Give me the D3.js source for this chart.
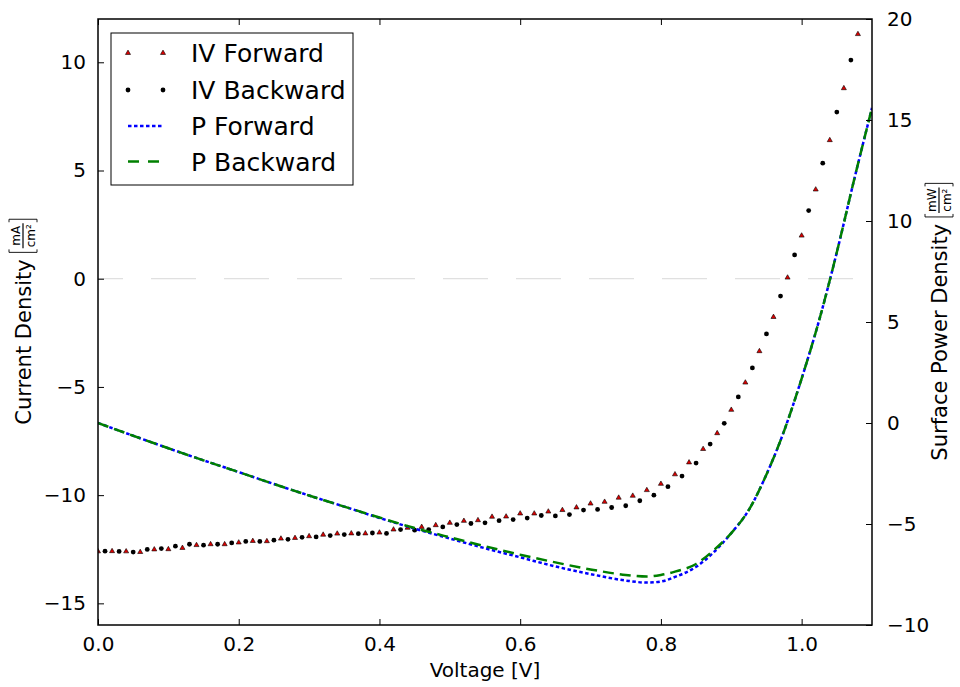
<!doctype html>
<html>
<head>
<meta charset="UTF-8">
<title>IV curve</title>
<script src="https://d3js.org/d3.v7.min.js"></script>
<style>
  body { margin: 0; background: #fff; }
  text { font-family: "DejaVu Sans", sans-serif; }
</style>
</head>
<body>
<svg width="960" height="687"></svg>
<script>
// forward sweep (triangles), 0.00 .. 1.08 V step 0.02
var fwdVolt = d3.range(0, 55).map(function (i) { return +(i * 0.02).toFixed(2); });
var fwdJ = [-12.60, -12.59, -12.60, -12.63, -12.51, -12.50, -12.44, -12.31, -12.27, -12.27,
            -12.19, -12.12, -12.13, -12.01, -11.98, -11.90, -11.83, -11.78, -11.77, -11.77,
            -11.73, -11.59, -11.51, -11.47, -11.39, -11.28, -11.19, -11.16, -11.00, -10.99,
            -10.85, -10.85, -10.76, -10.69, -10.57, -10.39, -10.31, -10.12, -10.03, -9.77,
            -9.48, -9.04, -8.49, -7.87, -7.14, -6.06, -4.80, -3.35, -1.77, 0.05,
            1.99, 4.12, 6.40, 8.80, 11.30];
// backward sweep (circles), 0.01 .. 1.07 V step 0.02
var bwdVolt = d3.range(0, 54).map(function (i) { return +(0.01 + i * 0.02).toFixed(2); });
var bwdJ = [-12.59, -12.60, -12.63, -12.51, -12.47, -12.36, -12.27, -12.31, -12.27, -12.21,
            -12.14, -12.14, -12.08, -12.04, -11.95, -11.93, -11.87, -11.82, -11.78, -11.75,
            -11.77, -11.59, -11.62, -11.59, -11.47, -11.36, -11.31, -11.28, -11.18, -11.13,
            -11.06, -10.94, -10.96, -10.90, -10.69, -10.66, -10.57, -10.49, -10.26, -10.00,
            -9.61, -9.12, -8.52, -7.64, -6.68, -5.46, -4.12, -2.55, -0.80, 1.10,
            3.15, 5.34, 7.70, 10.10];
// power density curves
var pVolt = [0, 0.05, 0.1, 0.15, 0.2, 0.25, 0.3, 0.35, 0.4, 0.45, 0.5, 0.55, 0.6, 0.65, 0.7, 0.75,
             0.78, 0.8, 0.82, 0.85, 0.875, 0.9, 0.925, 0.95, 0.975, 1.0, 1.025, 1.05, 1.075, 1.1];
var pFwd = [0, -0.63, -1.25, -1.85, -2.43, -3.02, -3.59, -4.14, -4.70, -5.23, -5.72, -6.20, -6.65, -7.10, -7.48, -7.80,
            -7.90, -7.85, -7.62, -7.12, -6.40, -5.45, -4.30, -2.55, -0.40, 2.20, 5.10, 8.45, 12.10, 15.60];
var pBwd = [0, -0.63, -1.25, -1.85, -2.43, -3.02, -3.59, -4.14, -4.68, -5.20, -5.66, -6.10, -6.52, -6.90, -7.25, -7.52,
            -7.60, -7.52, -7.36, -6.98, -6.30, -5.45, -4.30, -2.55, -0.40, 2.20, 5.10, 8.45, 12.10, 15.60];

var xTicks = [0, 0.2, 0.4, 0.6, 0.8, 1.0];
var leftTicks = [-15, -10, -5, 0, 5, 10];
var rightTicks = [-10, -5, 0, 5, 10, 15, 20];
var legendNames = ["IV Forward", "IV Backward", "P Forward", "P Backward"];

var L = 98, R = 872, T = 19, B = 625;
var svg = d3.select("svg");
var x = d3.scaleLinear().domain([0, 1.1]).range([L, R]);
var yL = d3.scaleLinear().domain([-16, 12]).range([B, T]);
var yR = d3.scaleLinear().domain([-10, 20]).range([B, T]);

svg.append("defs").append("clipPath").attr("id", "clip")
    .append("rect").attr("x", L).attr("y", T).attr("width", R - L).attr("height", B - T);

// zero line
svg.append("line")
    .attr("x1", L).attr("x2", R).attr("y1", yL(0)).attr("y2", yL(0))
    .attr("stroke", "#d8d8d8").attr("stroke-width", 1).attr("stroke-dasharray", "45,28")
    .attr("stroke-dashoffset", 20);

var plot = svg.append("g").attr("clip-path", "url(#clip)");

var tri = d3.symbol().type(d3.symbolTriangle).size(11);

plot.selectAll(".fwd").data(fwdVolt).enter().append("path")
    .attr("class", "fwd")
    .attr("d", tri)
    .attr("transform", function (d, i) { return "translate(" + x(d) + "," + yL(fwdJ[i]) + ")"; })
    .attr("fill", "#dd0000").attr("stroke", "black").attr("stroke-width", 0.6);

plot.selectAll(".bwd").data(bwdVolt).enter().append("circle")
    .attr("class", "bwd")
    .attr("cx", function (d) { return x(d); })
    .attr("cy", function (d, i) { return yL(bwdJ[i]); })
    .attr("r", 2.4).attr("fill", "black");

var line = function (vals) {
    return d3.line()
        .x(function (d) { return x(d); })
        .y(function (d, i) { return yR(vals[i]); })
        .curve(d3.curveMonotoneX)(pVolt);
};

plot.append("path").attr("d", line(pFwd))
    .attr("fill", "none").attr("stroke", "#0000ff").attr("stroke-width", 2.5)
    .attr("stroke-dasharray", "3.5,2.5");
plot.append("path").attr("d", line(pBwd))
    .attr("fill", "none").attr("stroke", "#008000").attr("stroke-width", 2.5)
    .attr("stroke-dasharray", "11,6");

// axes with inward ticks
var tl = 6;
svg.append("g").attr("transform", "translate(0," + B + ")")
    .call(d3.axisBottom(x).tickValues(xTicks).tickFormat(d3.format(".1f")).tickSizeInner(-tl).tickSizeOuter(0).tickPadding(12))
    .call(function (g) { g.select(".domain").remove(); });
svg.append("g").attr("transform", "translate(0," + T + ")")
    .call(d3.axisTop(x).tickValues(xTicks).tickFormat("").tickSizeInner(-tl).tickSizeOuter(0))
    .call(function (g) { g.select(".domain").remove(); });
svg.append("g").attr("transform", "translate(" + L + ",0)")
    .call(d3.axisLeft(yL).tickValues(leftTicks).tickSizeInner(-tl).tickSizeOuter(0).tickPadding(12))
    .call(function (g) { g.select(".domain").remove(); });
svg.append("g").attr("transform", "translate(" + R + ",0)")
    .call(d3.axisRight(yR).tickValues(rightTicks).tickSizeInner(-tl).tickSizeOuter(0).tickPadding(15))
    .call(function (g) { g.select(".domain").remove(); });

svg.selectAll(".tick text").attr("font-size", 20).attr("font-family", "DejaVu Sans").attr("fill", "black");
svg.selectAll(".tick line").attr("stroke", "black").attr("stroke-width", 1);

svg.append("rect").attr("x", L).attr("y", T).attr("width", R - L).attr("height", B - T)
    .attr("fill", "none").attr("stroke", "black").attr("stroke-width", 1.5);

// axis labels
svg.append("text").attr("x", (L + R) / 2).attr("y", 677).attr("text-anchor", "middle")
    .attr("font-size", 20).text("Voltage [V]");

function yLabel(cx, txt, num, den) {
    var g = svg.append("g").attr("transform", "translate(" + cx + "," + ((T + B) / 2) + ") rotate(-90)");
    var t = g.append("text").attr("font-size", 21).text(txt);
    var w = t.node().getComputedTextLength();
    var f = g.append("g");
    var n = f.append("text").attr("font-family", "DejaVu Serif").attr("font-size", 12).attr("text-anchor", "middle").text(num);
    var d = f.append("text").attr("font-family", "DejaVu Serif").attr("font-size", 12).attr("text-anchor", "middle").text(den);
    var fw = Math.max(n.node().getComputedTextLength(), d.node().getComputedTextLength()) + 2;
    var bx = w + 7;
    var cxf = bx + 4 + fw / 2;
    n.attr("x", cxf).attr("y", -11);
    d.attr("x", cxf).attr("y", 4);
    f.append("line").attr("x1", cxf - fw / 2).attr("x2", cxf + fw / 2).attr("y1", -8).attr("y2", -8)
        .attr("stroke", "black").attr("stroke-width", 1.2);
    var rx = bx + fw + 8;
    f.append("path").attr("d", "M" + (bx + 3) + ",-22H" + bx + "V6H" + (bx + 3))
        .attr("fill", "none").attr("stroke", "black").attr("stroke-width", 0.9);
    f.append("path").attr("d", "M" + (rx - 3) + ",-22H" + rx + "V6H" + (rx - 3))
        .attr("fill", "none").attr("stroke", "black").attr("stroke-width", 0.9);
    var total = rx;
    t.attr("x", -total / 2);
    f.attr("transform", "translate(" + (-total / 2) + ",0)");
}
yLabel(31, "Current Density", "mA", "cm\u00b2");
yLabel(947, "Surface Power Density", "mW", "cm\u00b2");

// legend
var lg = svg.append("g");
lg.append("rect").attr("x", 111).attr("y", 33).attr("width", 242).attr("height", 152)
    .attr("fill", "white").attr("stroke", "black").attr("stroke-width", 1);
var rows = [53, 90, 126, 161.5];
[128, 163].forEach(function (px) {
    lg.append("path").attr("d", tri).attr("transform", "translate(" + px + "," + rows[0] + ")")
        .attr("fill", "#dd0000").attr("stroke", "black").attr("stroke-width", 0.6);
    lg.append("circle").attr("cx", px).attr("cy", rows[1]).attr("r", 2.4).attr("fill", "black");
});
lg.append("line").attr("x1", 128).attr("x2", 163).attr("y1", rows[2]).attr("y2", rows[2])
    .attr("stroke", "#0000ff").attr("stroke-width", 2.5).attr("stroke-dasharray", "3.5,2.5");
lg.append("line").attr("x1", 128).attr("x2", 163).attr("y1", rows[3]).attr("y2", rows[3])
    .attr("stroke", "#008000").attr("stroke-width", 2.5).attr("stroke-dasharray", "11,9");
lg.selectAll(".lt").data(legendNames).enter().append("text")
    .attr("x", 191).attr("y", function (d, i) { return rows[i] + 9; })
    .attr("font-size", 25).text(function (d) { return d; });
</script>
</body>
</html>
